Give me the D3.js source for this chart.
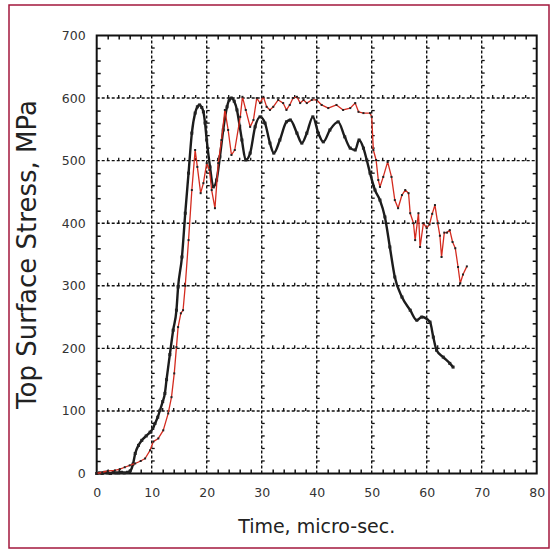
<!DOCTYPE html>
<html>
<head>
<meta charset="utf-8">
<style>
  body { margin: 0; background: #fff; }
  svg { display: block; font-family: "DejaVu Sans", Verdana, sans-serif; }
</style>
<script src="https://cdn.jsdelivr.net/npm/d3@7/dist/d3.min.js"></script>
</head>
<body>
<script>

// black trace
var blackTime = [0, 0.5, 1, 1.5, 2, 2.5, 3, 3.5, 4, 4.5, 5, 5.6, 6.1, 6.6, 7.0, 7.6, 8.2, 9.0, 9.7, 10.2, 10.6, 11.1, 11.5, 12.0, 12.4, 12.7, 13.3, 13.9, 14.5, 14.8, 15.5, 16.1, 16.7, 17.3, 17.9, 18.3, 18.7, 19.1, 19.4, 19.7, 20.0, 20.6, 21.2, 21.8, 22.4, 23.0, 23.7, 24.1, 24.5, 25.0, 25.5, 26.0, 26.4, 27.1, 27.9, 28.8, 29.7, 30.6, 31.5, 32.2, 33.3, 34.5, 35.2, 36.4, 37.3, 38.2, 39.3, 40.3, 41.2, 42.4, 43.9, 45.1, 46.1, 47.0, 47.7, 48.5, 49.1, 49.7, 50.6, 51.5, 52.4, 53.3, 54.2, 55.5, 57.0, 58.2, 59.1, 60.6, 61.2, 61.8, 63.0, 64.2, 64.8];
var blackStress = [0, 1, 0, 2, 1, 0, 2, 1, 1, 2, 1, 2, 4, 15, 32, 45, 53, 60, 66, 72, 80, 90, 101, 115, 128, 150, 190, 229, 261, 298, 346, 416, 480, 544, 576, 586, 589, 585, 578, 560, 533, 490, 458, 469, 506, 549, 586, 597, 600, 595, 581, 555, 533, 501, 512, 554, 570, 560, 528, 512, 533, 562, 565, 544, 528, 544, 570, 544, 530, 549, 562, 538, 520, 517, 533, 520, 501, 480, 453, 437, 410, 362, 314, 282, 261, 245, 250, 242, 218, 197, 186, 176, 170];

// red trace
var redTime = [0, 1, 2, 3.3, 4.2, 5.1, 6, 7.0, 8.0, 8.8, 9.7, 10.3, 11.2, 12.1, 13.0, 13.6, 14.1, 14.5, 14.8, 15.3, 15.7, 16.1, 16.7, 17.3, 17.9, 18.3, 18.9, 19.4, 20.0, 20.5, 20.9, 21.5, 22.1, 22.7, 23.3, 23.9, 24.5, 25.1, 26.1, 26.5, 27.1, 27.9, 28.5, 29.1, 29.7, 30.3, 30.9, 31.5, 32.1, 33.0, 33.9, 34.5, 35.1, 35.7, 36.4, 37.0, 37.6, 38.2, 39.1, 40.0, 40.9, 42.1, 43.6, 44.8, 46.1, 47.0, 47.6, 48.5, 49.7, 50.0, 50.3, 50.8, 51.2, 51.5, 52.1, 52.9, 53.6, 54.2, 54.8, 55.5, 56.1, 56.7, 57.0, 57.6, 57.9, 58.5, 58.8, 59.4, 60.0, 60.5, 61.0, 61.5, 62.0, 62.4, 62.7, 63.2, 63.7, 64.2, 64.7, 65.2, 65.7, 66.1, 66.6, 67.3];
var redStress = [0, 2, 4, 5, 7, 10, 13, 16, 20, 24, 37, 51, 56, 69, 96, 122, 160, 202, 234, 256, 261, 300, 373, 453, 517, 490, 448, 464, 496, 485, 453, 424, 496, 533, 581, 549, 509, 517, 570, 602, 581, 554, 565, 600, 592, 602, 586, 581, 586, 597, 592, 581, 589, 600, 602, 592, 597, 592, 597, 597, 589, 584, 589, 581, 584, 592, 578, 576, 576, 570, 517, 501, 469, 458, 474, 498, 474, 437, 424, 445, 453, 448, 416, 400, 373, 416, 362, 400, 392, 398, 415, 429, 400, 380, 346, 385, 385, 389, 370, 360, 330, 304, 318, 331];

var xTicks = [0, 10, 20, 30, 40, 50, 60, 70, 80];
var yTicks = [0, 100, 200, 300, 400, 500, 600, 700];

var W = 552, H = 550;
var margin = {top: 35.5, right: 15.3, bottom: 76.5, left: 96.7};

var svg = d3.select("body").append("svg")
    .attr("width", W)
    .attr("height", H);

// outer maroon frame
svg.append("rect")
    .attr("x", 9).attr("y", 5)
    .attr("width", 540).attr("height", 543)
    .attr("fill", "none")
    .attr("stroke", "#a3173c")
    .attr("stroke-width", 1.5);

var x = d3.scaleLinear().domain([0, 80]).range([margin.left, W - margin.right]);
var y = d3.scaleLinear().domain([0, 700]).range([H - margin.bottom, margin.top]);

var xMinor = d3.range(0, 81, 2).filter(function(d) { return d % 10 != 0; });
var yMinor = d3.range(0, 701, 20).filter(function(d) { return d % 100 != 0; });

// grid lines
var grid = svg.append("g").attr("stroke", "#111").attr("stroke-width", 1.4).attr("stroke-dasharray", "3,2");
grid.selectAll(".vg").data(xTicks.slice(1, -1)).enter().append("line")
    .attr("x1", function(d) { return x(d); }).attr("x2", function(d) { return x(d); })
    .attr("y1", y(0)).attr("y2", y(700));
grid.selectAll(".hg").data(yTicks.slice(1, -1)).enter().append("line")
    .attr("y1", function(d) { return y(d); }).attr("y2", function(d) { return y(d); })
    .attr("x1", x(0)).attr("x2", x(80));

// small ticks along every grid line
var gt = svg.append("g").attr("stroke", "#111").attr("stroke-width", 1.3);
xTicks.slice(1, -1).forEach(function(v) {
  gt.selectAll(null).data(yMinor).enter().append("line")
    .attr("x1", x(v)).attr("x2", x(v) + 3)
    .attr("y1", function(d) { return y(d); }).attr("y2", function(d) { return y(d); });
});
yTicks.slice(1, -1).forEach(function(v) {
  gt.selectAll(null).data(xMinor).enter().append("line")
    .attr("y1", y(v)).attr("y2", y(v) - 3)
    .attr("x1", function(d) { return x(d); }).attr("x2", function(d) { return x(d); });
});

// frame axes with inward minor ticks
function styleAxis(g) {
  g.select(".domain").remove();
  g.selectAll("line").attr("stroke", "#111").attr("stroke-width", 1.5);
}
svg.append("g").attr("transform", "translate(0," + y(0) + ")")
    .call(d3.axisTop(x).tickValues(xMinor).tickSize(4).tickFormat("")).call(styleAxis);
svg.append("g").attr("transform", "translate(0," + y(700) + ")")
    .call(d3.axisBottom(x).tickValues(xMinor).tickSize(4).tickFormat("")).call(styleAxis);
svg.append("g").attr("transform", "translate(" + x(0) + ",0)")
    .call(d3.axisRight(y).tickValues(yMinor).tickSize(4).tickFormat("")).call(styleAxis);
svg.append("g").attr("transform", "translate(" + x(80) + ",0)")
    .call(d3.axisLeft(y).tickValues(yMinor).tickSize(4).tickFormat("")).call(styleAxis);

svg.append("rect")
    .attr("x", x(0)).attr("y", y(700))
    .attr("width", x(80) - x(0)).attr("height", y(0) - y(700))
    .attr("fill", "none").attr("stroke", "#111").attr("stroke-width", 2);

// tick labels
var xAxis = svg.append("g").attr("transform", "translate(0," + y(0) + ")")
    .call(d3.axisBottom(x).tickValues(xTicks).tickSize(0).tickPadding(15));
xAxis.select(".domain").remove();
xAxis.selectAll("text").attr("font-size", 12.5).attr("fill", "#333").attr("font-family", "DejaVu Sans, Verdana, sans-serif");

var yAxis = svg.append("g").attr("transform", "translate(" + x(0) + ",0)")
    .call(d3.axisLeft(y).tickValues(yTicks).tickSize(0).tickPadding(11));
yAxis.select(".domain").remove();
yAxis.selectAll("text").attr("font-size", 12.5).attr("fill", "#333").attr("font-family", "DejaVu Sans, Verdana, sans-serif");

// axis titles
svg.append("text")
    .attr("x", (x(0) + x(80)) / 2).attr("y", 533)
    .attr("text-anchor", "middle")
    .attr("font-size", 19).attr("fill", "#222")
    .text("Time, micro-sec.");
svg.append("text")
    .attr("transform", "translate(36," + y(350) + ") rotate(-90)")
    .attr("text-anchor", "middle")
    .attr("font-size", 26).attr("fill", "#222")
    .text("Top Surface Stress, MPa");

// traces
function drawTrace(times, vals, color, lw, ms, curve) {
  var pts = times.map(function(t, i) { return [t, vals[i]]; });
  var line = d3.line()
      .curve(curve)
      .x(function(d) { return x(d[0]); })
      .y(function(d) { return y(d[1]); });
  svg.append("path").datum(pts)
      .attr("fill", "none").attr("stroke", color)
      .attr("stroke-width", lw).attr("stroke-linejoin", "round")
      .attr("d", line);
  svg.append("g").selectAll("rect").data(pts).enter().append("rect")
      .attr("x", function(d) { return x(d[0]) - ms / 2; })
      .attr("y", function(d) { return y(d[1]) - ms / 2; })
      .attr("width", ms).attr("height", ms)
      .attr("fill", "#222");
}
drawTrace(blackTime, blackStress, "#1c1c1c", 2.4, 3, d3.curveMonotoneX);
drawTrace(redTime, redStress, "#d42b1f", 1.3, 2, d3.curveLinear);

</script>
</body>
</html>
